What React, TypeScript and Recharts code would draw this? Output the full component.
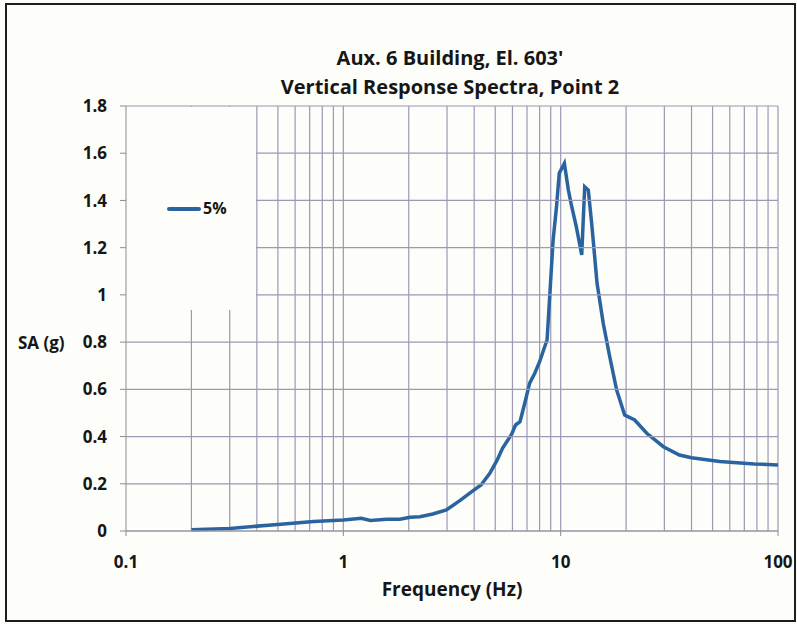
import React from 'react';
import { LineChart, Line, XAxis, YAxis, Label } from 'recharts';

// 5% damped vertical spectrum, frequency (Hz) vs spectral acceleration (g)
const freqHz = [
  0.2, 0.3, 0.5, 0.73, 1.0, 1.21, 1.33, 1.58, 1.82, 2.03, 2.25, 2.58, 2.98, 3.46,
  3.9, 4.3, 4.72, 5.1, 5.4, 5.95, 6.2, 6.5, 6.83, 7.2, 7.6, 8.0, 8.66, 9.23, 9.57,
  9.85, 10.4, 10.85, 11.2, 11.8, 12.5, 12.9, 13.4, 13.9, 14.7, 15.7, 16.8, 18.1,
  19.7, 21.9, 24.9, 29.7, 35.2, 40, 54, 77.7, 100,
];
const saG = [
  0.005, 0.011, 0.028, 0.04, 0.047, 0.054, 0.045, 0.05, 0.05, 0.058, 0.06, 0.072,
  0.089, 0.131, 0.167, 0.195, 0.244, 0.3, 0.35, 0.41, 0.449, 0.463, 0.54, 0.626,
  0.668, 0.717, 0.81, 1.232, 1.374, 1.515, 1.557, 1.444, 1.381, 1.289, 1.169, 1.458,
  1.444, 1.3, 1.05, 0.88, 0.74, 0.597, 0.491, 0.47, 0.414, 0.357, 0.322, 0.31, 0.294,
  0.284, 0.28,
];

const xTicks = [0.1, 1, 10, 100];
const yTicks = [0, 0.2, 0.4, 0.6, 0.8, 1, 1.2, 1.4, 1.6, 1.8];
// log grid: every integer multiple inside each decade
const gridFreqs = [
  0.2, 0.3, 0.4, 0.5, 0.6, 0.7, 0.8, 0.9,
  1, 2, 3, 4, 5, 6, 7, 8, 9,
  10, 20, 30, 40, 50, 60, 70, 80, 90, 100,
];

const data = freqHz.map((f, i) => ({ f, sa: saG[i] }));

const FONT = '"Open Sans", "DejaVu Sans", sans-serif';
const INK = '#161616';
const GRID = '#9d98b6';
const AXIS = '#8c8c8c';
const LINE = '#2a64a0';
const PAPER = '#fdfdf9';

const W = 797;
const H = 624;
const MARGIN = { top: 106, right: 19, bottom: 63, left: 66 };
const Y_AXIS_W = 60;
const X_AXIS_H = 30;
const PLOT_LEFT = MARGIN.left + Y_AXIS_W;
const PLOT_RIGHT = W - MARGIN.right;
const PLOT_TOP = MARGIN.top;
const PLOT_BOTTOM = H - MARGIN.bottom - X_AXIS_H;

// blank legend panel in the top-left corner of the plot
const LEGEND = { left: PLOT_LEFT + 1, top: PLOT_TOP + 1, width: 129, height: 203 };
const LEGEND_RIGHT = LEGEND.left + LEGEND.width;
const LEGEND_BOTTOM = LEGEND.top + LEGEND.height;

const tickStyle = { fill: INK, fontSize: 17, fontWeight: 700, fontFamily: FONT };

// vertical grid drawn as full-height ticks of a log axis underneath the plot
const GridTickX = (props: any) => (
  <line x1={props.x} x2={props.x} y1={PLOT_TOP} y2={PLOT_BOTTOM} stroke={GRID} strokeWidth={1.2} />
);

// y tick: value label plus its horizontal grid line, kept clear of the legend panel
const ValueTickY = (props: any) => {
  const { x, y, payload } = props;
  const inLegend = y > LEGEND.top && y < LEGEND_BOTTOM;
  return (
    <g>
      <line
        x1={inLegend ? LEGEND_RIGHT : PLOT_LEFT}
        x2={PLOT_RIGHT}
        y1={y}
        y2={y}
        stroke={GRID}
        strokeWidth={1.2}
      />
      <text x={x} y={y} dy="0.36em" textAnchor="end" {...tickStyle}>
        {String(+Number(payload.value).toFixed(1))}
      </text>
    </g>
  );
};

const GridLayer = () => (
  <LineChart width={W} height={H} data={data} margin={MARGIN}>
    <XAxis
      dataKey="f"
      type="number"
      scale="log"
      domain={[0.1, 100]}
      ticks={gridFreqs}
      interval={0}
      allowDataOverflow
      height={X_AXIS_H}
      tickLine={false}
      axisLine={false}
      tick={GridTickX}
    />
    <YAxis type="number" domain={[0, 1.8]} ticks={yTicks} width={Y_AXIS_W} tick={false} tickLine={false} axisLine={false} />
    <Line dataKey="sa" stroke="none" dot={false} isAnimationActive={false} />
  </LineChart>
);

const LegendBox = () => (
  <div style={{ position: 'absolute', ...LEGEND, background: PAPER }}>
    <div style={{ position: 'absolute', left: 40, top: 100, width: 34, height: 4, background: LINE, borderRadius: 2 }} />
    <div
      style={{
        position: 'absolute',
        left: 76,
        top: 90,
        fontFamily: FONT,
        fontWeight: 700,
        fontSize: 16,
        color: INK,
      }}
    >
      5%
    </div>
  </div>
);

export default function App() {
  return (
    <div style={{ position: 'fixed', left: 0, top: 0, width: W, height: H, background: PAPER }}>
      <div
        style={{
          position: 'absolute',
          left: 5,
          top: 3,
          width: 787,
          height: 615,
          border: '2px solid #1e1e1e',
        }}
      />
      <div
        style={{
          position: 'absolute',
          left: 120,
          width: 660,
          top: 43,
          textAlign: 'center',
          fontFamily: FONT,
          fontWeight: 700,
          fontSize: 20,
          lineHeight: '29px',
          color: INK,
        }}
      >
        <div>Aux. 6 Building, El. 603'</div>
        <div>Vertical Response Spectra, Point 2</div>
      </div>
      <div style={{ position: 'absolute', left: 0, top: 0 }}>
        <GridLayer />
      </div>
      <LegendBox />
      <div style={{ position: 'absolute', left: 0, top: 0 }}>
        <LineChart width={W} height={H} data={data} margin={MARGIN}>
          <XAxis
            dataKey="f"
            type="number"
            scale="log"
            domain={[0.1, 100]}
            ticks={xTicks}
            allowDataOverflow
            height={X_AXIS_H}
            stroke={AXIS}
            tickSize={5}
            tickMargin={20}
            tick={tickStyle}
            tickFormatter={(v: number) => String(v)}
          >
            <Label
              value="Frequency (Hz)"
              position="bottom"
              offset={22}
              style={{ fill: INK, fontSize: 19, fontWeight: 700, fontFamily: FONT }}
            />
          </XAxis>
          <YAxis
            type="number"
            domain={[0, 1.8]}
            ticks={yTicks}
            interval={0}
            width={Y_AXIS_W}
            stroke={AXIS}
            tickSize={6}
            tickMargin={13}
            tick={ValueTickY}
          >
            <Label
              content={({ viewBox }: any) => (
                <text
                  x={viewBox.x - 48}
                  y={viewBox.y + viewBox.height / 2 + 30}
                  fill={INK}
                  fontSize={17}
                  fontWeight={700}
                  fontFamily={FONT}
                >
                  SA (g)
                </text>
              )}
            />
          </YAxis>
          <Line
            type="linear"
            dataKey="sa"
            name="5%"
            stroke={LINE}
            strokeWidth={3.5}
            dot={false}
            isAnimationActive={false}
          />
        </LineChart>
      </div>
    </div>
  );
}
